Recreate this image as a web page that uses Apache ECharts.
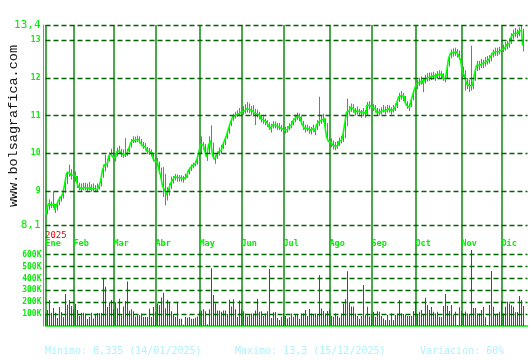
<!DOCTYPE html>
<html>
<head>
<meta charset="utf-8">
<script src="https://cdn.jsdelivr.net/npm/echarts@6/dist/echarts.min.js"></script>
<style>html,body{margin:0;padding:0;background:#fff}#c{width:530px;height:360px}</style>
</head>
<body>
<div id="c"></div>
<script>
const monthNames = ['Ene','Feb','Mar','Abr','May','Jun','Jul','Ago','Sep','Oct','Nov','Dic'];
const tradingDays = [14,20,21,22,21,21,23,21,22,23,20,12];
const yearLabel = '2025';
const priceTicks = [8.1, 9, 10, 11, 12, 13, 13.4];
const volumeTicksK = [100, 200, 300, 400, 500, 600];

const closeP = [
8.36,8.50,8.67,8.63,8.65,8.50,8.63,8.76,8.83,8.90,
9.16,9.47,9.49,9.42,9.42,9.38,9.25,9.10,9.07,9.10,
9.10,9.07,9.10,9.04,9.07,9.03,9.07,9.10,9.25,9.56,
9.69,9.73,9.91,10.00,9.91,9.87,10.04,10.07,10.00,9.97,
9.98,10.02,10.10,10.27,10.34,10.35,10.37,10.34,10.27,10.20,
10.17,10.06,10.04,10.01,9.89,9.80,9.77,9.60,9.42,9.13,
9.03,8.90,9.03,9.20,9.29,9.38,9.36,9.35,9.35,9.33,
9.38,9.42,9.55,9.62,9.68,9.73,9.80,9.99,10.24,10.21,
10.08,9.90,10.21,10.34,9.95,9.83,9.95,10.04,10.08,10.21,
10.34,10.47,10.65,10.82,10.96,11.00,11.04,11.09,11.10,11.12,
11.16,11.18,11.16,11.12,11.10,11.05,11.05,11.00,10.92,10.88,
10.83,10.79,10.72,10.66,10.75,10.75,10.70,10.70,10.66,10.61,
10.61,10.63,10.70,10.75,10.83,10.92,10.97,10.95,10.88,10.75,
10.66,10.66,10.61,10.60,10.66,10.57,10.75,10.83,10.88,10.92,
10.79,10.44,10.31,10.28,10.22,10.19,10.22,10.31,10.35,10.42,
10.75,11.09,11.13,11.22,11.18,11.09,11.13,11.09,11.04,11.09,
11.04,11.27,11.27,11.22,11.22,11.18,11.09,11.09,11.13,11.18,
11.13,11.18,11.18,11.13,11.18,11.22,11.31,11.49,11.53,11.49,
11.40,11.27,11.22,11.35,11.53,11.71,11.84,11.88,11.93,11.84,
11.95,12.00,12.02,12.04,12.06,12.02,12.08,12.10,12.08,12.02,
11.97,12.15,12.51,12.65,12.67,12.69,12.65,12.60,12.47,12.15,
12.06,11.84,11.79,11.79,11.84,12.11,12.33,12.33,12.38,12.38,
12.42,12.47,12.49,12.56,12.65,12.69,12.69,12.72,12.74,12.78,
12.83,12.87,12.92,13.05,13.14,13.19,13.17,13.23,13.26,12.87
];
const highP = [
8.45,8.62,8.78,8.72,8.98,8.66,8.70,8.85,8.90,8.98,
9.25,9.52,9.70,9.58,9.55,9.52,9.40,9.22,9.20,9.22,
9.22,9.20,9.24,9.18,9.20,9.16,9.20,9.15,9.32,9.70,
9.96,9.85,10.02,10.12,10.04,10.00,10.15,10.20,10.12,10.10,
10.40,10.12,10.22,10.38,10.45,10.44,10.47,10.45,10.38,10.30,
10.27,10.17,10.14,10.10,10.00,9.90,9.88,9.78,9.62,9.64,
9.45,9.10,9.20,9.38,9.40,9.45,9.44,9.42,9.42,9.40,
9.46,9.52,9.62,9.70,9.75,9.80,9.90,10.10,10.45,10.30,
10.25,10.10,10.45,10.74,10.28,9.96,10.05,10.15,10.22,10.30,
10.44,10.58,10.75,10.92,11.05,11.10,11.14,11.20,11.22,11.25,
11.30,11.36,11.32,11.25,11.28,11.18,11.16,11.10,11.02,10.98,
10.92,10.88,10.82,10.78,10.85,10.84,10.80,10.80,10.75,10.70,
10.70,10.72,10.80,10.85,10.92,11.02,11.08,11.06,10.98,10.86,
10.76,10.76,10.72,10.70,10.76,10.68,10.88,11.50,11.00,11.05,
10.92,10.80,10.45,10.40,10.34,10.30,10.32,10.42,10.46,10.54,
10.88,11.45,11.25,11.32,11.30,11.20,11.24,11.18,11.15,11.20,
11.15,11.36,11.38,11.32,11.30,11.28,11.20,11.18,11.22,11.28,
11.24,11.28,11.27,11.22,11.28,11.32,11.42,11.60,11.65,11.60,
11.52,11.38,11.32,11.45,11.65,11.80,11.95,12.00,12.04,11.96,
12.08,12.12,12.14,12.14,12.16,12.12,12.18,12.20,12.18,12.12,
12.08,12.30,12.62,12.75,12.78,12.80,12.76,12.72,12.60,12.30,
12.20,12.00,11.95,12.85,12.00,12.25,12.45,12.45,12.50,12.48,
12.55,12.58,12.60,12.66,12.75,12.80,12.80,12.82,13.00,12.88,
12.95,12.98,13.05,13.18,13.28,13.32,13.28,13.34,13.38,13.30
];
const lowP = [
8.33,8.38,8.50,8.55,8.55,8.42,8.48,8.62,8.72,8.80,
8.95,9.18,9.38,9.30,9.32,9.25,9.08,9.02,9.00,9.02,
9.02,9.00,9.02,8.98,9.00,8.98,9.00,9.04,9.12,9.35,
9.52,9.62,9.78,9.92,9.82,9.78,9.92,9.98,9.90,9.88,
9.90,9.93,10.02,10.15,10.27,10.28,10.30,10.26,10.20,10.12,
10.08,9.98,9.96,9.92,9.78,9.70,9.65,9.45,9.28,8.84,
8.62,8.75,8.88,9.05,9.20,9.28,9.25,9.25,9.25,9.22,
9.30,9.34,9.44,9.53,9.60,9.65,9.70,9.80,9.98,10.10,
9.98,9.80,9.98,10.10,9.85,9.72,9.85,9.94,10.00,10.12,
10.22,10.38,10.52,10.72,10.86,10.92,10.96,11.00,11.02,11.02,
11.05,11.08,11.06,11.00,10.98,10.75,10.95,10.90,10.82,10.78,
10.74,10.70,10.62,10.55,10.66,10.66,10.62,10.62,10.57,10.53,
10.52,10.55,10.62,10.66,10.74,10.82,10.88,10.85,10.76,10.62,
10.55,10.58,10.52,10.50,10.56,10.48,10.62,10.72,10.78,10.82,
10.68,10.35,10.20,10.16,10.10,10.08,10.12,10.20,10.26,10.30,
10.40,10.72,11.02,11.10,11.08,11.00,11.03,10.98,10.94,10.98,
10.94,11.02,11.16,11.12,11.12,11.08,11.00,11.00,11.03,11.08,
11.03,11.08,11.08,11.03,11.08,11.12,11.20,11.36,11.42,11.38,
11.30,11.18,11.12,11.22,11.40,11.58,11.70,11.78,11.82,11.62,
11.85,11.90,11.92,11.94,11.96,11.92,11.98,12.00,11.98,11.92,
11.88,11.98,12.30,12.52,12.56,12.58,12.54,12.48,12.20,12.02,
11.66,11.70,11.62,11.66,11.70,11.92,12.18,12.20,12.26,12.26,
12.30,12.35,12.38,12.44,12.54,12.58,12.58,12.62,12.62,12.68,
12.72,12.76,12.80,12.90,13.02,13.08,13.05,13.10,13.15,12.70
];
const volumeK = [
106,134,218,112,151,112,67,160,118,76,
269,179,218,168,140,185,134,84,112,112,
106,59,76,112,64,95,109,109,109,400,
330,160,196,218,140,200,150,230,90,165,
210,375,130,140,125,80,90,90,105,75,
75,75,145,75,160,120,190,175,240,280,
150,220,205,125,100,75,205,60,60,10,
75,70,75,60,60,70,80,125,130,140,
125,15,140,485,260,190,130,130,120,130,
130,100,220,165,225,140,75,215,140,125,
105,80,95,105,105,130,230,120,125,84,
106,125,480,67,115,118,67,50,78,106,
84,64,73,106,78,92,92,62,106,106,
134,84,143,106,101,106,101,428,148,126,
106,126,140,84,78,106,84,70,106,190,
225,460,195,165,165,106,85,60,85,344,
90,162,80,100,120,78,125,120,84,64,
50,92,50,106,50,92,106,218,106,101,
92,84,84,84,126,196,101,120,134,92,
238,174,134,160,120,106,120,78,73,168,
269,171,126,176,92,120,8,157,126,106,
123,106,101,640,151,151,106,106,134,162,
73,8,176,462,162,92,106,120,210,106,
162,204,190,174,162,115,118,252,218,168
];
const statsTexts = ['Minimo: 8,335 (14/01/2025)', 'Maximo: 13,3 (15/12/2025)', 'Variación: 60%'];

// build categories
const categories = [];
const monthStart = new Set();
tradingDays.forEach((n, m) => {
  for (let k = 0; k < n; k++) {
    if (k === 0) monthStart.add(categories.length);
    categories.push(monthNames[m] + '-' + (k + 1));
  }
});
categories.push('', '');

const rangeData = closeP.map((c, i) => [i, highP[i], lowP[i]]);

const BRIGHT = '#00ee00';
const GRIDV = '#0c8c0c';
const DASH = '#006400';
const MONO = 'DejaVu Sans Mono';
const TEAL = '#1a9db0';

const chart = echarts.init(document.getElementById('c'), null, {renderer: 'canvas'});
chart.setOption({
  animation: false,
  backgroundColor: '#ffffff',
  grid: [
    {left: 45.5, right: 2.5, top: 25, bottom: 135},
    {left: 45.5, right: 2.5, top: 225, bottom: 34}
  ],
  xAxis: [
    {
      type: 'category', gridIndex: 0, data: categories, boundaryGap: false,
      axisLine: {show: false}, axisTick: {show: false},
      splitLine: {show: true, interval: (i) => monthStart.has(i), lineStyle: {color: GRIDV, width: 1.5}},
      axisLabel: {
        show: true, interval: (i) => monthStart.has(i), align: 'left', margin: 14,
        formatter: (v) => v.split('-')[0],
        color: BRIGHT, fontFamily: MONO, fontSize: 8.5, fontWeight: 'bold'
      }
    },
    {
      type: 'category', gridIndex: 1, data: categories, boundaryGap: false,
      axisLine: {show: true, lineStyle: {color: BRIGHT, width: 1.5}}, axisTick: {show: false},
      axisLabel: {show: false},
      splitLine: {show: true, interval: (i) => monthStart.has(i), lineStyle: {color: GRIDV, width: 1.5}}
    }
  ],
  yAxis: [
    {
      type: 'value', gridIndex: 0, min: 8.1, max: 13.4, offset: 2,
      axisLine: {show: true, lineStyle: {color: BRIGHT, width: 1}},
      axisTick: {show: false}, splitLine: {show: false},
      axisLabel: {
        customValues: priceTicks, margin: 3,
        formatter: (v) => {
          const s = String(Math.round(v * 10) / 10).replace('.', ',');
          return (v === 8.1 || v === 13.4) ? '{big|' + s + '}' : '{small|' + s + '}';
        },
        rich: {
          big: {color: BRIGHT, fontFamily: MONO, fontSize: 11},
          small: {color: BRIGHT, fontFamily: MONO, fontSize: 8, fontWeight: 'bold'}
        }
      }
    },
    {
      type: 'value', gridIndex: 1, min: 0, max: 850, interval: 100, offset: 2,
      axisLine: {show: true, lineStyle: {color: BRIGHT, width: 1}},
      axisTick: {show: false}, splitLine: {show: false},
      axisLabel: {
        margin: 2, color: BRIGHT, fontFamily: MONO, fontSize: 8, fontWeight: 'bold',
        formatter: (v) => (v >= 100 && v <= 600) ? v + 'K' : ''
      }
    }
  ],
  series: [
    {
      type: 'custom', xAxisIndex: 0, yAxisIndex: 0, z: 2,
      data: rangeData,
      encode: {x: 0, y: [1, 2]},
      renderItem: (params, api) => {
        const hi = api.coord([api.value(0), api.value(1)]);
        const lo = api.coord([api.value(0), api.value(2)]);
        return {type: 'line', shape: {x1: hi[0], y1: hi[1], x2: lo[0], y2: lo[1]},
          style: {stroke: TEAL, lineWidth: 1}};
      },
      markLine: {
        silent: true, symbol: 'none', label: {show: false},
        lineStyle: {color: DASH, type: [5, 3], width: 1.3},
        data: priceTicks.map(v => ({yAxis: v}))
      }
    },
    {
      type: 'line', xAxisIndex: 0, yAxisIndex: 0, z: 3,
      data: closeP, showSymbol: false, symbol: 'none', step: 'middle',
      lineStyle: {color: '#00ff00', width: 1.6}
    },
    {
      type: 'bar', xAxisIndex: 1, yAxisIndex: 1, z: 2,
      data: volumeK, barWidth: 1,
      itemStyle: {color: '#ff0000'},
      markLine: {
        silent: true, symbol: 'none', label: {show: false},
        lineStyle: {color: DASH, type: [5, 3], width: 1.3},
        data: volumeTicksK.map(v => ({yAxis: v}))
      }
    }
  ],
  graphic: [
    {type: 'text', x: 45, y: 231, style: {text: yearLabel, fill: '#ee0000', font: '9px ' + MONO}},
    {type: 'text', x: 13, y: 126, rotation: Math.PI / 2,
      style: {text: 'www.bolsagrafica.com', fill: '#111111', font: '13.5px Liberation Mono', align: 'center', verticalAlign: 'middle'}},
    {type: 'text', x: 45, y: 346, style: {text: statsTexts[0], fill: '#aef2ff', font: '10px ' + MONO}},
    {type: 'text', x: 235, y: 346, style: {text: statsTexts[1], fill: '#aef2ff', font: '10px ' + MONO}},
    {type: 'text', x: 420, y: 346, style: {text: statsTexts[2], fill: '#aef2ff', font: '10px ' + MONO}}
  ]
});
</script>
</body>
</html>
